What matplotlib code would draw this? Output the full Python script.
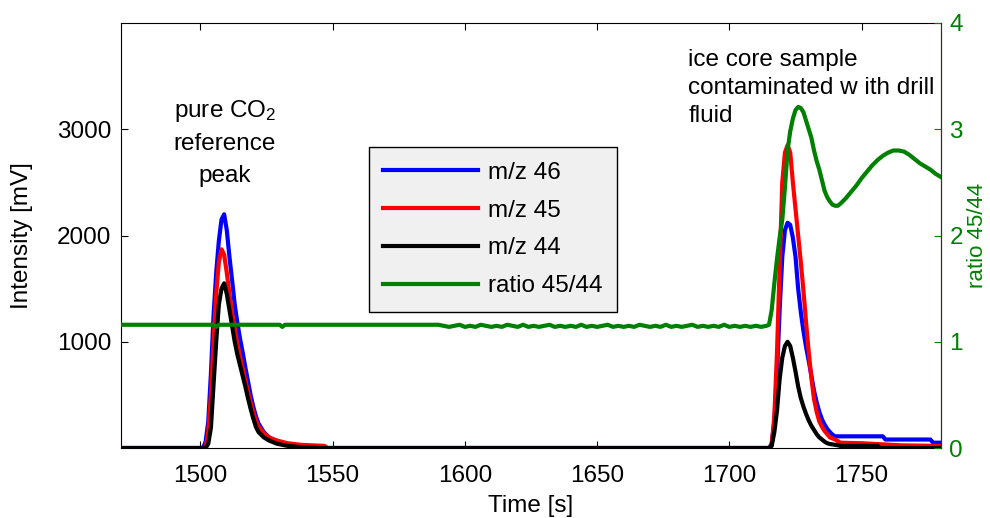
import numpy as np
from matplotlib import pyplot as plt

plt.rcParams['font.family'] = ['Liberation Sans', 'DejaVu Sans']
plt.rcParams['mathtext.fontset'] = 'custom'
plt.rcParams['mathtext.rm'] = 'Liberation Sans'
plt.rcParams['mathtext.it'] = 'Liberation Sans'
plt.rcParams['font.size'] = 17.5

# intensity traces, time [s] and intensity [mV]
t_46 = [1470, 1501, 1502, 1503, 1504, 1505, 1506, 1507, 1508, 1509, 1510, 1511, 1512, 1513,
        1514, 1515, 1516, 1517, 1518, 1519, 1520, 1521, 1522, 1524, 1526, 1529, 1533, 1538,
        1545, 1550, 1715, 1716, 1717, 1718, 1719, 1720, 1721, 1722, 1723, 1724, 1725, 1726,
        1727, 1728, 1729, 1730, 1731, 1732, 1733, 1734, 1735, 1736, 1737, 1738, 1739, 1740,
        1758, 1759, 1776, 1777, 1780]
i_46 = [0, 0, 60, 250, 700, 1250, 1650, 1950, 2150, 2200, 2050, 1800, 1580, 1350,
        1180, 1030, 900, 760, 630, 500, 390, 300, 230, 150, 100, 60, 30, 12,
        0, 0, 0, 40, 250, 700, 1300, 1800, 2050, 2120, 2100, 1980, 1800, 1500,
        1280, 1100, 950, 820, 680, 540, 430, 340, 270, 220, 180, 150, 125, 110,
        110, 80, 80, 50, 50]

t_45 = [1470, 1502, 1503, 1504, 1505, 1506, 1507, 1508, 1509, 1510, 1511, 1512, 1513,
        1514, 1515, 1516, 1517, 1518, 1519, 1520, 1521, 1522, 1524, 1526, 1529, 1533, 1538,
        1547, 1548, 1715, 1716, 1717, 1718, 1719, 1720, 1721, 1722, 1723, 1724, 1725, 1726,
        1727, 1728, 1729, 1730, 1731, 1732, 1733, 1734, 1735, 1736, 1737, 1738, 1740,
        1742, 1750, 1765, 1780]
i_45 = [0, 0, 150, 500, 1000, 1450, 1750, 1870, 1820, 1650, 1450, 1270, 1120,
        980, 860, 750, 640, 530, 430, 340, 260, 200, 140, 100, 70, 45, 30,
        20, 0, 0, 30, 300, 900, 1700, 2500, 2780, 2850, 2780, 2500, 2250, 2000,
        1750, 1480, 1180, 900, 660, 460, 340, 250, 200, 160, 130, 100, 80,
        50, 45, 25, 20]

t_44 = [1470, 1502, 1503, 1504, 1505, 1506, 1507, 1508, 1509, 1510, 1511, 1512, 1513,
        1514, 1515, 1516, 1517, 1518, 1519, 1520, 1521, 1522, 1524, 1526, 1529, 1533, 1538,
        1545, 1715, 1716, 1717, 1718, 1719, 1720, 1721, 1722, 1723, 1724, 1725, 1726,
        1727, 1728, 1729, 1730, 1731, 1732, 1733, 1734, 1735, 1736, 1737, 1738, 1740,
        1742, 1756, 1757, 1780]
i_44 = [0, 0, 40, 190, 600, 1000, 1350, 1500, 1550, 1450, 1300, 1150, 1000,
        880, 780, 680, 580, 470, 370, 280, 200, 150, 100, 70, 40, 20, 8,
        0, 0, 20, 150, 350, 650, 850, 960, 1000, 960, 850, 720, 580,
        470, 390, 320, 260, 210, 170, 130, 100, 80, 60, 45, 38, 30,
        20, 20, 0, 0]

# isotope ratio 45/44
t_ratio = [1470, 1505, 1506, 1507, 1530, 1531, 1532, 1590,
           1592, 1594, 1596, 1598, 1600, 1602, 1604, 1606, 1608, 1610, 1612, 1614, 1616,
           1618, 1620, 1622, 1624, 1626, 1628, 1630, 1632, 1634, 1636, 1638, 1640, 1642,
           1644, 1646, 1648, 1650, 1652, 1654, 1656, 1658, 1660, 1662, 1664, 1666, 1668,
           1670, 1672, 1674, 1676, 1678, 1680, 1682, 1684, 1686, 1688, 1690, 1692, 1694,
           1696, 1698, 1700, 1702, 1704, 1706, 1708, 1710, 1712, 1714,
           1715, 1716, 1717, 1718, 1719, 1720, 1721, 1722, 1723, 1724, 1725, 1726, 1727,
           1728, 1729, 1730, 1731, 1732, 1733, 1734, 1735, 1736, 1737, 1738, 1739, 1740,
           1741, 1742, 1744, 1746, 1748, 1750, 1752, 1754, 1756, 1758, 1760, 1762, 1764,
           1766, 1768, 1770, 1772, 1774, 1776, 1778, 1780]
ratio = [1.16, 1.16, 1.14, 1.16, 1.16, 1.14, 1.16, 1.16,
         1.15, 1.14, 1.15, 1.16, 1.14, 1.15, 1.14, 1.16, 1.15, 1.14, 1.15, 1.14, 1.16,
         1.15, 1.14, 1.16, 1.14, 1.15, 1.14, 1.15, 1.16, 1.14, 1.15, 1.14, 1.15, 1.14,
         1.16, 1.14, 1.15, 1.14, 1.15, 1.16, 1.14, 1.15, 1.14, 1.15, 1.14, 1.16, 1.15,
         1.14, 1.15, 1.14, 1.16, 1.14, 1.15, 1.14, 1.15, 1.16, 1.14, 1.15, 1.14, 1.15,
         1.14, 1.16, 1.14, 1.15, 1.14, 1.15, 1.14, 1.15, 1.14, 1.15,
         1.16, 1.30, 1.55, 1.78, 1.98, 2.15, 2.45, 2.80, 2.98, 3.10, 3.18, 3.21, 3.20,
         3.16, 3.08, 3.00, 2.92, 2.80, 2.70, 2.62, 2.52, 2.42, 2.36, 2.32, 2.29, 2.28,
         2.28, 2.30, 2.35, 2.41, 2.47, 2.54, 2.60, 2.66, 2.71, 2.75, 2.78, 2.80, 2.80,
         2.79, 2.76, 2.72, 2.68, 2.65, 2.62, 2.58, 2.55]

fig = plt.figure(figsize=(9.9, 5.18), dpi=100)
ax = fig.add_axes([0.1222, 0.1351, 0.8283, 0.8205])
ax2 = ax.twinx()

lw = 3.0
h46, = ax.plot(t_46, i_46, color='#0000ff', lw=lw, label='m/z 46')
h45, = ax.plot(t_45, i_45, color='#ff0000', lw=lw, label='m/z 45')
h44, = ax.plot(t_44, i_44, color='#000000', lw=lw, label='m/z 44')
hr, = ax2.plot(t_ratio, ratio, color='#008000', lw=lw, label='ratio 45/44')

ax.set_xlim(1470, 1780)
ax.set_ylim(0, 4000)
ax2.set_ylim(0, 4)
ax.set_xticks([1500, 1550, 1600, 1650, 1700, 1750])
ax.set_yticks([1000, 2000, 3000])
ax2.set_yticks([0, 1, 2, 3, 4])

ax.tick_params(axis='x', direction='in', length=5, top=True, pad=12)
ax.tick_params(axis='y', direction='in', length=5, right=False, pad=7)
ax2.tick_params(direction='in', length=5, colors='#008000', pad=6)
ax2.spines['right'].set_color('#1e3d1e')
for s in ['left', 'top', 'bottom']:
    ax2.spines[s].set_visible(False)

ax.set_xlabel('Time [s]', labelpad=6)
ax.set_ylabel('Intensity [mV]', labelpad=17)
ax2.set_ylabel('ratio 45/44', color='#008000', labelpad=3, fontsize=16)

ax.text(1509.3, 2877, 'pure CO$_2$\nreference\npeak', ha='center', va='center',
        linespacing=1.55)
ax2.text(1684.5, 3.39, 'ice core sample\ncontaminated w ith drill\nfluid', ha='left',
         va='center', linespacing=1.36)

leg = ax2.legend(handles=[h46, h45, h44, hr], loc='upper left',
                 bbox_to_anchor=(0.302, 0.708), fontsize=17.5, handlelength=3.9,
                 handletextpad=0.4, labelspacing=0.65, borderpad=0.6,
                 fancybox=False, framealpha=1, borderaxespad=0)
leg.get_frame().set_facecolor('#f0f0f0')
leg.get_frame().set_edgecolor('black')
leg.get_frame().set_linewidth(1.0)

plt.savefig('out.png', dpi=100)
